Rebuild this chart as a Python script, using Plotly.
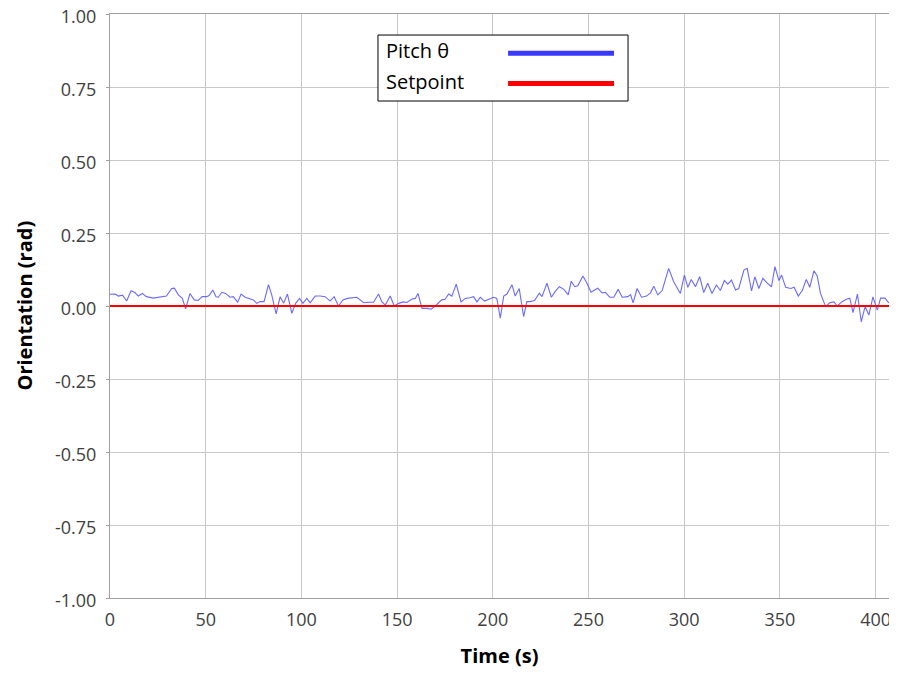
#!/usr/bin/env python3
"""
Pitch orientation vs setpoint chart, written to out.html.
"""
import plotly.graph_objects as go

# Pitch readings (time in s, orientation in rad)
time_s = [
    0, 1, 2.7, 4.4, 6.5, 8.7, 11, 13, 14.8, 16.9, 19, 22.5, 25, 29.5, 32.2, 33.6,
    35.7, 37.8, 39.5, 41.8, 44, 46, 48.2, 50.4, 51.8, 53.7, 55.4, 56.6, 58.4,
    60.4, 62.7, 64.4, 66.7, 68.5, 70.6, 72.6, 74.9, 76.7, 78.4, 80.5,
    82.8, 84.5, 86.8, 88.9, 90.7, 92.7, 95, 97, 99, 100.8, 102.8, 104.6, 107.2,
    109.8, 112.4, 115, 117.1, 119.4, 121.7, 124.1, 126.4, 129, 130.7, 132.5,
    135.1, 137.7, 140.3, 142, 143.8, 146.4, 148.5, 150.8, 153.1, 155.1, 157.8,
    159.5, 160.9,
    163, 165.6, 167.8, 169.9, 171.3, 173.3, 175.1, 176.9, 178.6, 180.9, 183.4,
    185.6, 188, 190, 191.7, 193.5, 195.7, 197.8, 200.4, 202.1, 203.9, 205.7,
    207.4, 210, 211.7, 213.8, 216.1, 217.8, 219.5, 221.8, 224.3, 225.7, 228.3,
    230.6, 232.7, 234.8, 237.1, 239.4,
    241, 242.8, 244.4, 247.1, 249.2, 251.3, 253, 254.8, 257.1, 258.8, 261.1,
    263.2, 265.5, 267.6, 270.5, 272, 273.3, 275.4, 277.7, 280.3, 282.4, 284.1,
    286.2, 288.5, 291.9, 294.5, 298, 300.1, 301.9, 303.7, 305.9, 308.1, 310.2,
    312.3, 314.5, 316.8, 318.9, 321, 322.8,
    324.7, 326.8, 328.5, 331.2, 332.9, 335.2, 336.9, 339, 341.1, 343.4, 345.6,
    347.4, 349.5, 350.9, 353, 355.7, 357.4, 359.6, 361.7, 363.8, 365.6, 367.8,
    369.5, 371.2, 373.9, 376, 378.2, 380, 382.3, 384.7, 386.5, 388.2, 390.5,
    392.5, 394.5, 396.5, 398.6, 400.9, 402.6, 404.9, 406.9,
]
pitch_rad = [
    0.040, 0.041, 0.041, 0.034, 0.037, 0.017, 0.052, 0.046, 0.034, 0.043, 0.032,
    0.027, 0.030, 0.034, 0.060, 0.061, 0.038, 0.026, -0.010, 0.043, 0.021, 0.019,
    0.032, 0.032, 0.036, 0.055, 0.032, 0.030, 0.047, 0.043, 0.030, 0.032, 0.013,
    0.041, 0.030, 0.026, 0.021, 0.009, 0.015, 0.015,
    0.073, 0.038, -0.027, 0.032, 0.009, 0.041, -0.025, 0.009, 0.026, 0.009, 0.026,
    0.011, 0.034, 0.034, 0.032, 0.017, 0.032, 0.000, 0.021, 0.026, 0.028, 0.030,
    0.021, 0.011, 0.013, 0.013, 0.041, 0.015, 0.003, 0.034, 0.000, 0.009, 0.014,
    0.012, 0.024, 0.026, 0.043,
    -0.008, -0.008, -0.011, 0.000, 0.009, 0.021, 0.023, 0.041, 0.034, 0.075,
    0.014, 0.026, 0.028, 0.032, 0.014, 0.030, 0.017, 0.023, 0.030, 0.026, -0.042,
    0.034, 0.041, 0.073, 0.034, 0.060, -0.036, 0.015, 0.015, 0.019, 0.044, 0.032,
    0.078, 0.030, 0.051, 0.066, 0.057, 0.038,
    0.085, 0.066, 0.069, 0.103, 0.078, 0.047, 0.053, 0.061, 0.045, 0.047, 0.030,
    0.030, 0.057, 0.030, 0.032, 0.039, 0.011, 0.060, 0.030, 0.034, 0.045, 0.068,
    0.038, 0.053, 0.129, 0.083, 0.043, 0.106, 0.064, 0.091, 0.066, 0.101, 0.046,
    0.078, 0.043, 0.072, 0.053, 0.087, 0.075,
    0.089, 0.055, 0.060, 0.123, 0.129, 0.052, 0.100, 0.060, 0.095, 0.078, 0.066,
    0.135, 0.087, 0.106, 0.064, 0.060, 0.064, 0.034, 0.053, 0.091, 0.064, 0.121,
    0.103, 0.043, -0.002, 0.011, 0.014, 0.000, 0.014, 0.023, 0.027, -0.023, 0.041,
    -0.054, -0.002, -0.031, 0.031, -0.014, 0.027, 0.027, 0.011,
]

setpoint_time = [0, 407]
setpoint_rad = [0.0, 0.0]

x_ticks = [0, 50, 100, 150, 200, 250, 300, 350, 400]
y_ticks = [1.0, 0.75, 0.5, 0.25, 0.0, -0.25, -0.5, -0.75, -1.0]
# plain hyphen for the minus sign, as in the original
y_tick_text = ["%.2f" % v for v in y_ticks]

legend_names = ["Pitch θ", "Setpoint"]
legend_colors = ["#3a3aff", "#ff0000"]

FONT = "Open Sans, Segoe UI, DejaVu Sans, sans-serif"

fig = go.Figure()
fig.add_trace(go.Scatter(x=time_s, y=pitch_rad, mode="lines", name=legend_names[0],
                         line=dict(color="rgba(80,80,255,0.85)", width=1.1)))
fig.add_trace(go.Scatter(x=setpoint_time, y=setpoint_rad, mode="lines", name=legend_names[1],
                         line=dict(color="#ff0000", width=2)))

# legend drawn by hand so the line samples sit to the right of the text
fig.add_shape(type="rect", xref="paper", yref="paper", x0=0.344, x1=0.665, y0=0.851, y1=0.964,
              line=dict(color="#000000", width=1), fillcolor="white", layer="above")
for i, (name, col) in enumerate(zip(legend_names, legend_colors)):
    yy = 0.933 - i * 0.052
    fig.add_annotation(xref="paper", yref="paper", x=0.352, y=yy + 0.004, text=name,
                       showarrow=False, xanchor="left", yanchor="middle",
                       font=dict(family=FONT, size=20, color="#000000"))
    fig.add_shape(type="line", xref="paper", yref="paper", x0=0.511, x1=0.647, y0=yy, y1=yy,
                  line=dict(color=col, width=5), layer="above")

# y title as a rotated annotation so it can sit closer to the left edge
fig.add_annotation(xref="paper", yref="paper", x=-0.111, y=0.5, text="<b>Orientation (rad)</b>",
                   textangle=-90, showarrow=False, xanchor="center", yanchor="middle",
                   font=dict(family=FONT, size=20, color="#000000"))

# the page body keeps its default 8px margin, so the figure is 8px smaller each way
fig.update_layout(
    width=889, height=666,
    margin=dict(l=102, r=8, t=6, b=76),
    paper_bgcolor="white", plot_bgcolor="white",
    showlegend=False,
    font=dict(family=FONT, size=17, color="#404040"),
)
fig.update_xaxes(
    range=[0, 407], tickvals=x_ticks, ticks="", showgrid=True, gridcolor="#c8c8c8",
    gridwidth=1, showline=True, linecolor="#a0a0a0", mirror=True, zeroline=False,
    automargin=False, tickfont=dict(size=18), ticklabelstandoff=5, ticklabeloverflow="allow",
    title=dict(text="<b>Time (s)</b>", font=dict(family=FONT, size=20, color="#000000"), standoff=19),
)
fig.update_yaxes(
    range=[-1, 1], tickvals=y_ticks, ticktext=y_tick_text, ticks="outside", ticklen=3,
    tickcolor="#a0a0a0", showgrid=True, gridcolor="#c8c8c8", gridwidth=1,
    showline=True, linecolor="#a0a0a0", mirror=True, zeroline=False,
    automargin=False, tickfont=dict(size=18), ticklabelstandoff=6, ticklabeloverflow="allow",
    ticklabelshift=3,
)

fig.write_html("out.html")
